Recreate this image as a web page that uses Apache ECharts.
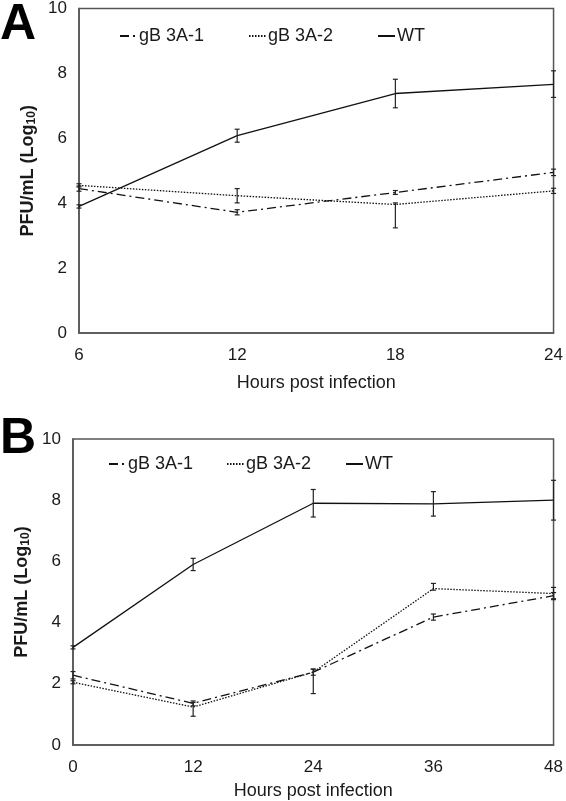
<!DOCTYPE html>
<html><head><meta charset="utf-8">
<script src="https://cdn.jsdelivr.net/npm/echarts@6/dist/echarts.min.js"></script>
<style>html,body{margin:0;padding:0;background:#fff}#c{width:566px;height:801px}</style>
</head><body><div id="c"></div>
<script>
// Panel A
const aHours = [6, 12, 18, 24];
const aMut1 = [4.45, 3.72, 4.33, 4.95];
const aMut1Up = [0.08, 0.08, 0.06, 0.1];
const aMut1Dn = [0.08, 0.08, 0.06, 0.1];
const aMut2 = [4.55, 4.23, 3.96, 4.38];
const aMut2Up = [0.05, 0.22, 0.05, 0.08];
const aMut2Dn = [0.05, 0.22, 0.72, 0.08];
const aWT = [3.9, 6.08, 7.38, 7.66];
const aWTUp = [0.05, 0.2, 0.44, 0.42];
const aWTDn = [0.05, 0.2, 0.44, 0.4];
// Panel B
const bHours = [0, 12, 24, 36, 48];
const bMut1 = [2.28, 1.36, 2.38, 4.18, 4.88];
const bMut1Up = [0.12, 0.08, 0.1, 0.1, 0.1];
const bMut1Dn = [0.12, 0.08, 0.1, 0.1, 0.1];
const bMut2 = [2.05, 1.24, 2.38, 5.11, 4.95];
const bMut2Up = [0.05, 0.15, 0.1, 0.17, 0.2];
const bMut2Dn = [0.05, 0.3, 0.7, 0.05, 0.2];
const bWT = [3.19, 5.9, 7.9, 7.88, 8.0];
const bWTUp = [0.05, 0.2, 0.45, 0.4, 0.65];
const bWTDn = [0.05, 0.2, 0.45, 0.4, 0.65];
const yTicks = [0, 2, 4, 6, 8, 10];
const names = ['gB 3A-1', 'gB 3A-2', 'WT'];

const txt = '#1a1a1a';
const font = 'Liberation Sans, Arial, sans-serif';
const dashDot = [9, 4, 2, 4];
const dotted = [1.5, 1.5];

function pairs(xs, ys) { return xs.map((x, i) => [x, ys[i]]); }
function errData(xs, ys, up, dn) { return xs.map((x, i) => [x, ys[i] - dn[i], ys[i] + up[i]]); }

function lineSeries(name, xs, ys, idx, dash) {
  return {
    type: 'line', name: name, xAxisIndex: idx, yAxisIndex: idx,
    data: pairs(xs, ys), symbol: 'none', silent: true,
    lineStyle: { color: '#111', width: 1.3, type: dash },
    itemStyle: { color: '#111' }
  };
}
function errSeries(xs, ys, up, dn, idx) {
  return {
    type: 'custom', xAxisIndex: idx, yAxisIndex: idx, silent: true, z: 5,
    data: errData(xs, ys, up, dn),
    renderItem: function (params, api) {
      const x = api.value(0);
      const lo = api.coord([x, api.value(1)]);
      const hi = api.coord([x, api.value(2)]);
      const w = 2.5;
      const st = { stroke: '#222', lineWidth: 1.2 };
      return { type: 'group', children: [
        { type: 'line', shape: { x1: lo[0], y1: lo[1], x2: hi[0], y2: hi[1] }, style: st },
        { type: 'line', shape: { x1: lo[0] - w, y1: lo[1], x2: lo[0] + w, y2: lo[1] }, style: st },
        { type: 'line', shape: { x1: hi[0] - w, y1: hi[1], x2: hi[0] + w, y2: hi[1] }, style: st }
      ]};
    }
  };
}

function xAxis(idx, xs, gap) {
  return {
    type: 'value', gridIndex: idx, min: xs[0], max: xs[xs.length - 1], interval: xs[1] - xs[0],
    name: 'Hours post infection', nameLocation: 'middle', nameGap: gap,
    nameTextStyle: { color: txt, fontSize: 18, fontFamily: font },
    axisLine: { show: true, lineStyle: { color: '#555', width: 1.5 } },
    axisTick: { show: false }, splitLine: { show: false },
    axisLabel: { color: txt, fontSize: 17, fontFamily: font, margin: 14 }
  };
}
function yAxis(idx, gap) {
  return {
    type: 'value', gridIndex: idx, min: yTicks[0], max: yTicks[yTicks.length - 1], interval: yTicks[1] - yTicks[0],
    name: 'PFU/mL (Log{s|10})', nameLocation: 'middle', nameGap: gap, nameRotate: 90,
    nameTextStyle: { color: txt, fontSize: 18, fontWeight: 'bold', fontFamily: font,
      rich: { s: { fontSize: 12, fontWeight: 'bold', fontFamily: font, color: txt, verticalAlign: 'bottom', padding: [7, 0, 0, 0] } } },
    axisLine: { show: true, lineStyle: { color: '#555', width: 1.5 } },
    axisTick: { show: false }, splitLine: { show: false },
    axisLabel: { color: txt, fontSize: 17, fontFamily: font, margin: 12 }
  };
}
function legendItem(name, left, top) {
  return {
    data: [name], left: left, top: top, itemWidth: 17, itemHeight: 10,
    selectedMode: false, padding: 0,
    textStyle: { color: txt, fontSize: 18, fontFamily: font, padding: [0, 0, 0, -3] },
    itemStyle: { opacity: 0 }
  };
}

const chart = echarts.init(document.getElementById('c'), null, { renderer: 'canvas' });
chart.setOption({
  animation: false,
  backgroundColor: '#fff',
  grid: [
    { left: 79, right: 10, top: 7, bottom: 468, show: true, borderColor: '#555', borderWidth: 1.5 },
    { left: 73, right: 11, top: 439, bottom: 56, show: true, borderColor: '#555', borderWidth: 1.5 }
  ],
  xAxis: [xAxis(0, aHours, 41), xAxis(1, bHours, 37)],
  yAxis: [yAxis(0, 33), yAxis(1, 29)],
  legend: [
    legendItem(names[0], 119, 27), legendItem(names[1], 248, 27), legendItem(names[2], 377, 27),
    legendItem(names[0], 108, 455), legendItem(names[1], 226, 455), legendItem(names[2], 345, 455)
  ],
  graphic: [
    { type: 'text', left: 0, top: 0, style: { text: 'A', font: 'bold 50px Liberation Sans, Arial', fill: '#000' } },
    { type: 'text', left: 0, top: 414, style: { text: 'B', font: 'bold 50px Liberation Sans, Arial', fill: '#000' } }
  ],
  series: [
    lineSeries(names[0], aHours, aMut1, 0, dashDot),
    lineSeries(names[1], aHours, aMut2, 0, dotted),
    lineSeries(names[2], aHours, aWT, 0, 'solid'),
    errSeries(aHours, aMut1, aMut1Up, aMut1Dn, 0),
    errSeries(aHours, aMut2, aMut2Up, aMut2Dn, 0),
    errSeries(aHours, aWT, aWTUp, aWTDn, 0),
    lineSeries(names[0], bHours, bMut1, 1, dashDot),
    lineSeries(names[1], bHours, bMut2, 1, dotted),
    lineSeries(names[2], bHours, bWT, 1, 'solid'),
    errSeries(bHours, bMut1, bMut1Up, bMut1Dn, 1),
    errSeries(bHours, bMut2, bMut2Up, bMut2Dn, 1),
    errSeries(bHours, bWT, bWTUp, bWTDn, 1)
  ]
});
</script></body></html>
